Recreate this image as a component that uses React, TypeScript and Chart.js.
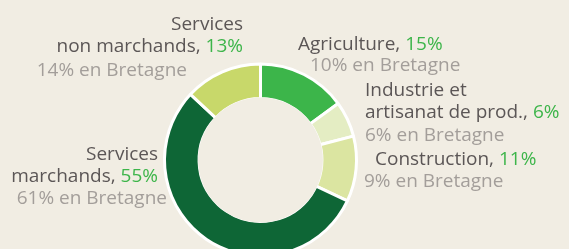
import React, { useEffect, useRef } from "react";
import { Chart, registerables } from "chart.js";
Chart.register(...registerables);

const categoryLines: string[][] = [
  ["Agriculture"],
  ["Industrie et", "artisanat de prod."],
  ["Construction"],
  ["Services", "marchands"],
  ["Services", "non marchands"],
];
const shares = [15, 6, 11, 55, 13];
const bretagneShares = [10, 6, 9, 61, 14];
const colors = ["#3cb54a", "#e4edc3", "#dbe5a1", "#0e6636", "#c8d86a"];

const BG = "#f1ede3";
const DARK = "#5b5656";
const LIGHT = "#a39e9a";
const GREEN = "#3db54a";
const FONT = '19px "Open Sans"';

type LabelPos = { x: number; y: number; align: "left" | "right"; bx: number; by: number; bAlign: "left" | "right" };
const labelPos: LabelPos[] = [
  { x: 298, y: 45, align: "left", bx: 310, by: 66, bAlign: "left" },
  { x: 365, y: 91, align: "left", bx: 365, by: 136, bAlign: "left" },
  { x: 375, y: 160, align: "left", bx: 364, by: 182, bAlign: "left" },
  { x: 158, y: 155, align: "right", bx: 167, by: 199, bAlign: "right" },
  { x: 243, y: 25, align: "right", bx: 187, by: 71, bAlign: "right" },
];
const LINE = 22;

export default function App() {
  const ref = useRef<HTMLCanvasElement>(null);
  useEffect(() => {
    if (!ref.current) return;
    const drawParts = (ctx: CanvasRenderingContext2D, parts: [string, string][], x: number, y: number, align: "left" | "right") => {
      const total = parts.reduce((s, p) => s + ctx.measureText(p[0]).width, 0);
      let cx = align === "right" ? x - total : x;
      for (const [t, c] of parts) {
        ctx.fillStyle = c;
        ctx.fillText(t, cx, y);
        cx += ctx.measureText(t).width;
      }
    };
    const labelsPlugin = {
      id: "sideLabels",
      afterDatasetsDraw(chart: any) {
        const ctx: CanvasRenderingContext2D = chart.ctx;
        const meta = chart.getDatasetMeta(0);
        const a0: any = meta.data[0];
        ctx.save();
        ctx.fillStyle = BG;
        ctx.beginPath();
        ctx.arc(a0.x, a0.y, a0.innerRadius + 1, 0, Math.PI * 2);
        ctx.fill();
        ctx.font = FONT;
        ctx.textBaseline = "middle";
        ctx.textAlign = "left";
        categoryLines.forEach((lines, i) => {
          const p = labelPos[i];
          lines.forEach((ln, j) => {
            const y = p.y + j * LINE;
            if (j === lines.length - 1) {
              drawParts(ctx, [[ln + ", ", DARK], [shares[i] + "%", GREEN]], p.x, y, p.align);
            } else {
              drawParts(ctx, [[ln, DARK]], p.x, y, p.align);
            }
          });
          drawParts(ctx, [[bretagneShares[i] + "% en Bretagne", LIGHT]], p.bx, p.by, p.bAlign);
        });
        ctx.restore();
      },
    };
    const chart = new Chart(ref.current, {
      type: "doughnut",
      data: {
        labels: categoryLines.map((l) => l.join(" ")),
        datasets: [
          {
            data: shares,
            backgroundColor: colors,
            borderColor: "#ffffff",
            borderWidth: 3,
          },
        ],
      },
      options: {
        responsive: false,
        animation: false,
        devicePixelRatio: 1,
        cutout: "64%",
        layout: { padding: { left: 163, right: 211, top: 62, bottom: 42 } },
        plugins: { legend: { display: false }, tooltip: { enabled: false } },
      },
      plugins: [labelsPlugin],
    });
    return () => chart.destroy();
  }, []);
  return (
    <div style={{ position: "fixed", left: 0, top: 0, width: 569, height: 249, overflow: "hidden", background: BG }}>
      <canvas ref={ref} width={569} height={300} style={{ display: "block" }} />
    </div>
  );
}
